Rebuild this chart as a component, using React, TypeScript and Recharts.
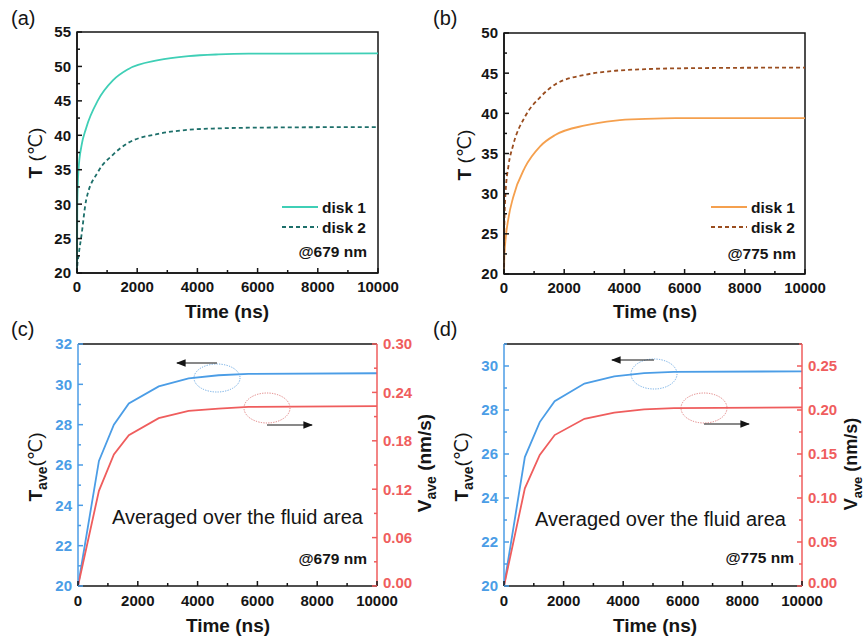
import React from "react";
import { LineChart, Line, XAxis, YAxis, ReferenceArea, ReferenceLine } from "recharts";

// time axis (ns)
const timeAB = [0, 10, 50, 150, 300, 700, 1200, 1700, 2700, 3700, 4700, 5700, 10000];
const timeCD = [0, 700, 1200, 1700, 2700, 3700, 4700, 5700, 10000];

// (a) @679 nm
const disk1A = [20, 30, 35, 38.5, 41, 45.1, 48, 49.6, 50.9, 51.5, 51.75, 51.85, 51.9];
const disk2A = [20, 21, 22.5, 25.5, 30.5, 34.7, 37.2, 38.9, 40.2, 40.8, 41.0, 41.1, 41.2];

// (b) @775 nm
const disk1B = [20, 22, 24.2, 27, 29.5, 33.3, 35.9, 37.3, 38.5, 39.1, 39.3, 39.4, 39.4];
const disk2B = [20, 26, 30, 33.5, 36, 39.6, 42.0, 43.6, 44.8, 45.3, 45.5, 45.6, 45.7];

// (c) averaged, @679 nm
const tempC = [20, 26.2, 28.0, 29.05, 29.9, 30.3, 30.45, 30.52, 30.55];
const velC = [0, 0.118, 0.163, 0.187, 0.208, 0.217, 0.22, 0.222, 0.223];

// (d) averaged, @775 nm
const tempD = [20, 25.86, 27.45, 28.4, 29.2, 29.53, 29.68, 29.73, 29.76];
const velD = [0, 0.111, 0.149, 0.1715, 0.19, 0.197, 0.2007, 0.2022, 0.203];

// ticks
const timeTicks = [0, 2000, 4000, 6000, 8000, 10000];
const timeMinor = [1000, 3000, 5000, 7000, 9000];
const tTicksA = [20, 25, 30, 35, 40, 45, 50, 55];
const tMinorA = [22.5, 27.5, 32.5, 37.5, 42.5, 47.5, 52.5];
const tTicksB = [20, 25, 30, 35, 40, 45, 50];
const tMinorB = [22.5, 27.5, 32.5, 37.5, 42.5, 47.5];
const tTicksC = [20, 22, 24, 26, 28, 30, 32];
const tMinorC = [21, 23, 25, 27, 29, 31];
const tTicksD = [20, 22, 24, 26, 28, 30];
const tMinorD = [21, 23, 25, 27, 29, 31];
const vTicksC = [0, 0.06, 0.12, 0.18, 0.24, 0.3];
const vMinorC = [0.03, 0.09, 0.15, 0.21, 0.27];
const vTicksD = [0, 0.05, 0.1, 0.15, 0.2, 0.25];
const vMinorD = [0.025, 0.075, 0.125, 0.175, 0.225, 0.275];

const FONT = "'Liberation Sans', Arial, 'DejaVu Sans', 'Noto Sans CJK SC', sans-serif";
const BLACK = "#151515";
const TEAL = "#3fcfb6";
const DKTEAL = "#1d6f6a";
const ORANGE = "#f5a04e";
const BROWN = "#9a4d1f";
const BLUE = "#4b9de6";
const RED = "#ef5d5d";

const dataA = timeAB.map((t, i) => ({ t, d1: disk1A[i], d2: disk2A[i] }));
const dataB = timeAB.map((t, i) => ({ t, d1: disk1B[i], d2: disk2B[i] }));
const dataC = timeCD.map((t, i) => ({ t, temp: tempC[i], vel: velC[i] }));
const dataD = timeCD.map((t, i) => ({ t, temp: tempD[i], vel: velD[i] }));

// draws an inward tick (long for major, short for minor) plus the label for majors
const AxisTick = (props: any) => {
  const { x, y, payload, side, major, color, gap, fmt } = props;
  const v = payload.value;
  const isMajor = major.some((m: number) => Math.abs(m - v) < 1e-9);
  const len = isMajor ? 5 : 3;
  const txt = { fontFamily: FONT, fontWeight: 700, fontSize: 15, fill: color };
  if (side === "left") {
    const ax = x + gap;
    return (
      <g>
        <line x1={ax} x2={ax + len} y1={y} y2={y} stroke={color} strokeWidth={1.5} />
        {isMajor && <text x={x} y={y} dy="0.36em" textAnchor="end" {...txt}>{fmt(v)}</text>}
      </g>
    );
  }
  if (side === "right") {
    const ax = x - gap;
    // lift the bottom label a touch so it clears the time labels
    const lift = Math.abs(v) < 1e-9 ? -3 : 0;
    return (
      <g>
        <line x1={ax} x2={ax - len} y1={y} y2={y} stroke={color} strokeWidth={1.5} />
        {isMajor && <text x={x} y={y + lift} dy="0.36em" textAnchor="start" {...txt}>{fmt(v)}</text>}
      </g>
    );
  }
  const ay = y - gap;
  return (
    <g>
      <line x1={x} x2={x} y1={ay} y2={ay - len} stroke={color} strokeWidth={1.5} />
      {isMajor && <text x={x} y={y} dy="0.72em" textAnchor="middle" {...txt}>{fmt(v)}</text>}
    </g>
  );
};

const fmtInt = (v: number) => String(v);
const fmt2 = (v: number) => v.toFixed(2);

const timeAxis = (h: number, gap: number) => (
  <XAxis
    dataKey="t"
    type="number"
    domain={[0, 10000]}
    ticks={[...timeTicks, ...timeMinor]}
    interval={0}
    height={h}
    tickSize={0}
    tickMargin={gap}
    tickLine={false}
    axisLine={{ stroke: BLACK, strokeWidth: 1.5 }}
    tick={(p: any) => <AxisTick {...p} side="bottom" major={timeTicks} gap={gap} color={BLACK} fmt={fmtInt} />}
  />
);

const TwoDiskChart = ({ data, ticks, minor, top, domain, c1, c2 }: any) => (
  <LineChart width={432} height={320} data={data} margin={{ top, right: 59, left: 27, bottom: 0 }}>
    {timeAxis(320 - top - 241, 8)}
    <YAxis
      type="number"
      domain={domain}
      ticks={[...ticks, ...minor]}
      interval={0}
      width={45}
      tickSize={0}
      tickMargin={6}
      tickLine={false}
      axisLine={{ stroke: BLACK, strokeWidth: 1.5 }}
      tick={(p: any) => <AxisTick {...p} side="left" major={ticks} gap={6} color={BLACK} fmt={fmtInt} />}
    />
    <ReferenceArea x1={0} x2={10000} y1={domain[0]} y2={domain[1]} fill="none" fillOpacity={0} stroke={BLACK} strokeWidth={1.5} />
    <Line type="monotone" dataKey="d1" stroke={c1} strokeWidth={1.8} dot={false} isAnimationActive={false} />
    <Line type="monotone" dataKey="d2" stroke={c2} strokeWidth={1.8} strokeDasharray="4 3" dot={false} isAnimationActive={false} />
  </LineChart>
);

const AvgChart = ({ data, left, right, tTicks, tMinor, tDomain, vTicks, vMinor, vDomain }: any) => (
  <LineChart width={432} height={320} data={data} margin={{ top: 24, right, left, bottom: 0 }}>
    {timeAxis(54, 9)}
    <YAxis
      yAxisId="l"
      type="number"
      domain={tDomain}
      ticks={[...tTicks, ...tMinor]}
      interval={0}
      width={45}
      tickSize={0}
      tickMargin={6}
      tickLine={false}
      axisLine={{ stroke: BLUE, strokeWidth: 1.5 }}
      tick={(p: any) => <AxisTick {...p} side="left" major={tTicks} gap={6} color={BLUE} fmt={fmtInt} />}
    />
    <YAxis
      yAxisId="r"
      orientation="right"
      type="number"
      domain={vDomain}
      ticks={[...vTicks, ...vMinor]}
      interval={0}
      width={50}
      tickSize={0}
      tickMargin={6}
      tickLine={false}
      axisLine={{ stroke: RED, strokeWidth: 1.5 }}
      tick={(p: any) => <AxisTick {...p} side="right" major={vTicks} gap={6} color={RED} fmt={fmt2} />}
    />
    <ReferenceLine yAxisId="l" y={tDomain[1]} stroke={BLACK} strokeWidth={1.5} />
    <Line yAxisId="l" type="linear" dataKey="temp" stroke={BLUE} strokeWidth={1.8} dot={false} isAnimationActive={false} />
    <Line yAxisId="r" type="linear" dataKey="vel" stroke={RED} strokeWidth={1.8} dot={false} isAnimationActive={false} />
  </LineChart>
);

const VTitle = ({ x, y, main, sub, rest, restBold, size = 19 }: any) => (
  <text
    transform={`translate(${x},${y}) rotate(-90)`}
    textAnchor="middle"
    dy="0.36em"
    fontFamily={FONT}
    fontSize={size}
    fontWeight={700}
    fill={BLACK}
  >
    <tspan>{main}</tspan>
    {sub && <tspan fontSize={size - 5} dy={5}>{sub}</tspan>}
    <tspan dy={sub ? -5 : 0} fontWeight={restBold ? 700 : 400}>{rest}</tspan>
  </text>
);

const Arrow = ({ x1, x2, y }: any) => (
  <line x1={x1} x2={x2} y1={y} y2={y} stroke={BLACK} strokeWidth={1.2} markerEnd="url(#ah)" />
);

export default function App() {
  const bold = { fontFamily: FONT, fontWeight: 700, fontSize: 15.5, fill: BLACK };
  const letter = { fontFamily: FONT, fontSize: 20, fill: BLACK };
  const xt = { fontFamily: FONT, fontWeight: 700, fontSize: 19, fill: BLACK, textAnchor: "middle" as const };
  return (
    <div style={{ position: "absolute", left: 0, top: 0, width: 864, height: 640, background: "#fff", overflow: "hidden" }}>
      <div style={{ position: "absolute", left: 5, top: 0 }}>
        <TwoDiskChart data={dataA} ticks={tTicksA} minor={tMinorA} top={32} domain={[20, 55]} c1={TEAL} c2={DKTEAL} />
      </div>
      <div style={{ position: "absolute", left: 432, top: 0 }}>
        <TwoDiskChart data={dataB} ticks={tTicksB} minor={tMinorB} top={33} domain={[20, 50]} c1={ORANGE} c2={BROWN} />
      </div>
      <div style={{ position: "absolute", left: 0, top: 320 }}>
        <AvgChart data={dataC} left={33} right={5} tTicks={tTicksC} tMinor={tMinorC} tDomain={[20, 32]} vTicks={vTicksC} vMinor={vMinorC} vDomain={[0, 0.3]} />
      </div>
      <div style={{ position: "absolute", left: 432, top: 320 }}>
        <AvgChart data={dataD} left={27} right={12} tTicks={tTicksD} tMinor={tMinorD} tDomain={[20, 31]} vTicks={vTicksD} vMinor={vMinorD} vDomain={[0, 0.275]} />
      </div>

      <svg width={864} height={640} style={{ position: "absolute", left: 0, top: 0, pointerEvents: "none" }}>
        <defs>
          <marker id="ah" viewBox="0 0 10 10" refX="9" refY="5" markerWidth="8" markerHeight="8" orient="auto">
            <path d="M0,1 L10,5 L0,9 z" fill={BLACK} />
          </marker>
        </defs>

        {/* panel letters */}
        <text x={11} y={25} {...letter}>(a)</text>
        <text x={433} y={25} {...letter}>(b)</text>
        <text x={11} y={336} {...letter}>(c)</text>
        <text x={433} y={336} {...letter}>(d)</text>

        {/* axis titles */}
        <text x={227} y={318} {...xt}>Time (ns)</text>
        <text x={655} y={318} {...xt}>Time (ns)</text>
        <text x={228} y={632} {...xt}>Time (ns)</text>
        <text x={655} y={632} {...xt}>Time (ns)</text>
        <VTitle x={35} y={153} main="T " rest="(℃)" />
        <VTitle x={464} y={155} main="T " rest="(℃)" />
        <VTitle x={35} y={467} main="T" sub="ave" rest="(℃)" />
        <VTitle x={461} y={467} main="T" sub="ave" rest="(℃)" />
        <VTitle x={424} y={463} main="V" sub="ave" rest=" (nm/s)" restBold />
        <VTitle x={851} y={464} main="V" sub="ave" rest=" (nm/s)" restBold size={18} />

        {/* legend (a) */}
        <line x1={282} x2={318} y1={207} y2={207} stroke={TEAL} strokeWidth={1.8} />
        <line x1={282} x2={318} y1={227} y2={227} stroke={DKTEAL} strokeWidth={1.8} strokeDasharray="4 3" />
        <text x={322} y={212.5} {...bold}>disk 1</text>
        <text x={322} y={232.5} {...bold}>disk 2</text>
        <text x={367} y={257} textAnchor="end" {...bold}>@679 nm</text>

        {/* legend (b) */}
        <line x1={711} x2={747} y1={207} y2={207} stroke={ORANGE} strokeWidth={1.8} />
        <line x1={711} x2={747} y1={227} y2={227} stroke={BROWN} strokeWidth={1.8} strokeDasharray="4 3" />
        <text x={751} y={212.5} {...bold}>disk 1</text>
        <text x={751} y={232.5} {...bold}>disk 2</text>
        <text x={796} y={259} textAnchor="end" {...bold}>@775 nm</text>

        {/* notes (c) */}
        <text x={112} y={524} fontFamily={FONT} fontSize={20} fill={BLACK}>Averaged over the fluid area</text>
        <text x={367} y={564} textAnchor="end" {...bold}>@679 nm</text>
        <ellipse cx={217} cy={378} rx={23} ry={14} fill="none" stroke="#6aa9e4" strokeWidth={1} strokeDasharray="1.2 1.3" />
        <ellipse cx={267} cy={408} rx={23} ry={15} fill="none" stroke="#e07a7a" strokeWidth={1} strokeDasharray="1.2 1.3" />
        <Arrow x1={217} x2={177} y={363} />
        <Arrow x1={267} x2={312} y={425} />

        {/* notes (d) */}
        <text x={535} y={526} fontFamily={FONT} fontSize={20} fill={BLACK}>Averaged over the fluid area</text>
        <text x={794} y={563} textAnchor="end" {...bold}>@775 nm</text>
        <ellipse cx={654} cy={374} rx={23} ry={15} fill="none" stroke="#6aa9e4" strokeWidth={1} strokeDasharray="1.2 1.3" />
        <ellipse cx={704} cy={408} rx={23} ry={15} fill="none" stroke="#e07a7a" strokeWidth={1} strokeDasharray="1.2 1.3" />
        <Arrow x1={654} x2={612} y={360} />
        <Arrow x1={704} x2={749} y={424} />
      </svg>
    </div>
  );
}
